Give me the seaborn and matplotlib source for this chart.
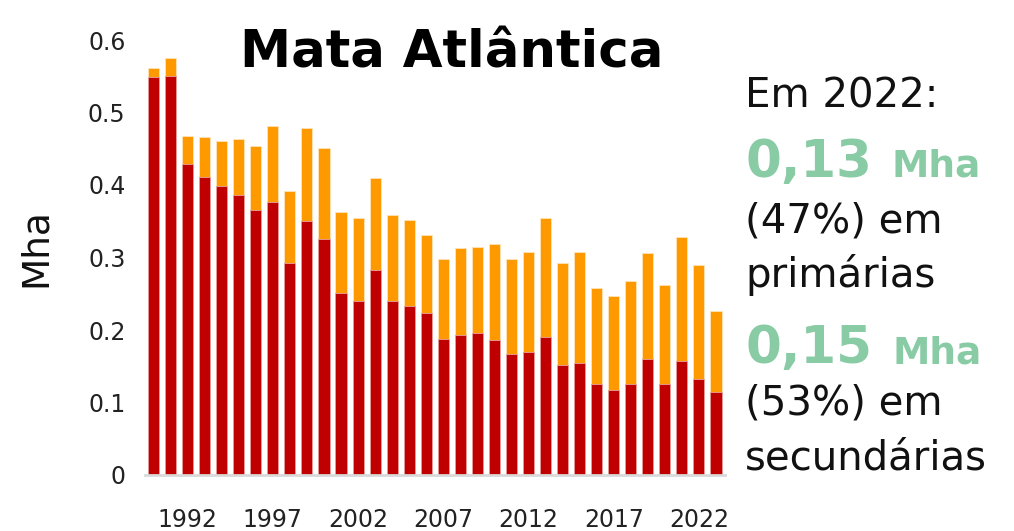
import matplotlib
matplotlib.use('Agg')
import matplotlib.pyplot as plt
import seaborn as sns
import pandas as pd

# dados (Mha)
anos = list(range(1990, 2024))
primaria = [0.549, 0.550, 0.429, 0.411, 0.399, 0.386, 0.366, 0.377, 0.292, 0.350,
            0.325, 0.251, 0.240, 0.283, 0.240, 0.233, 0.223, 0.188, 0.193, 0.196,
            0.186, 0.167, 0.169, 0.191, 0.152, 0.155, 0.126, 0.117, 0.125, 0.160,
            0.126, 0.157, 0.133, 0.115]
secundaria = [0.013, 0.025, 0.039, 0.055, 0.062, 0.078, 0.088, 0.104, 0.100, 0.129,
              0.126, 0.112, 0.115, 0.126, 0.119, 0.119, 0.108, 0.110, 0.120, 0.119,
              0.132, 0.131, 0.139, 0.163, 0.141, 0.153, 0.132, 0.130, 0.143, 0.146,
              0.136, 0.171, 0.156, 0.111]
rotulos_x = [1992, 1997, 2002, 2007, 2012, 2017, 2022]

df = pd.DataFrame({'ano': anos, 'primaria': primaria, 'secundaria': secundaria})
df['total'] = df['primaria'] + df['secundaria']

sns.set_style('white')
plt.rcParams['font.family'] = ['DejaVu Sans']

W, H = 1014, 531
fig = plt.figure(figsize=(W / 100, H / 100), dpi=100)
ax = fig.add_axes([145 / W, 1 - 475 / H, 579.5 / W, 435 / H])

sns.barplot(x='ano', y='total', data=df, color='#FF9900', width=0.65,
            saturation=1, ax=ax, edgecolor='#FFE3B8', linewidth=0.6)
sns.barplot(x='ano', y='primaria', data=df, color='#C00000', width=0.65,
            saturation=1, ax=ax, edgecolor='#E8A0A0', linewidth=0.6)

ax.set_xlim(-0.5, len(anos) - 0.5)
ax.set_ylim(0, 0.6)
ax.set_yticks([0, 0.1, 0.2, 0.3, 0.4, 0.5, 0.6])
ax.set_yticklabels(['0', '0.1', '0.2', '0.3', '0.4', '0.5', '0.6'], fontsize=17, color='#222222')
pos = [anos.index(a) for a in rotulos_x]
ax.set_xticks(pos)
ax.set_xticklabels([str(a) for a in rotulos_x], fontsize=17, color='#222222')
ax.tick_params(axis='x', length=0, pad=24)
ax.tick_params(axis='y', length=0, pad=14)
ax.set_xlabel('')
ax.set_ylabel('')
for s in ['top', 'right', 'left']:
    ax.spines[s].set_visible(False)
ax.spines['bottom'].set_color('#D9D9D9')
ax.spines['bottom'].set_linewidth(2)
ax.grid(False)

fig.text(36 / W, 1 - 248 / H, 'Mha', rotation=90, ha='center', va='center', fontsize=27, color='#111111')
fig.text(452 / W, 1 - 68 / H, 'Mata Atlântica', ha='center', va='baseline',
         fontsize=37, fontweight='bold', color='black')

verde = '#88CBA4'
x0 = 745 / W
def yb(py):
    return 1 - py / H

renderer = fig.canvas.get_renderer()

def numero(txt, py):
    t = fig.text(x0, yb(py), txt, fontsize=37, fontweight='bold', va='baseline', color=verde)
    bb = t.get_window_extent(renderer)
    fig.text((bb.x1 + 20) / W, yb(py), 'Mha', fontsize=27, fontweight='bold', va='baseline', color=verde)

fig.text(x0, yb(107), 'Em 2022:', fontsize=29, va='baseline', color='#111111')
numero('0,13', 177)
fig.text(x0, yb(233), '(47%) em', fontsize=29, va='baseline', color='#111111')
fig.text(x0, yb(287), 'primárias', fontsize=29, va='baseline', color='#111111')
numero('0,15', 363)
fig.text(x0, yb(415), '(53%) em', fontsize=29, va='baseline', color='#111111')
fig.text(x0, yb(470), 'secundárias', fontsize=29, va='baseline', color='#111111')

fig.savefig('out.png', dpi=100)
